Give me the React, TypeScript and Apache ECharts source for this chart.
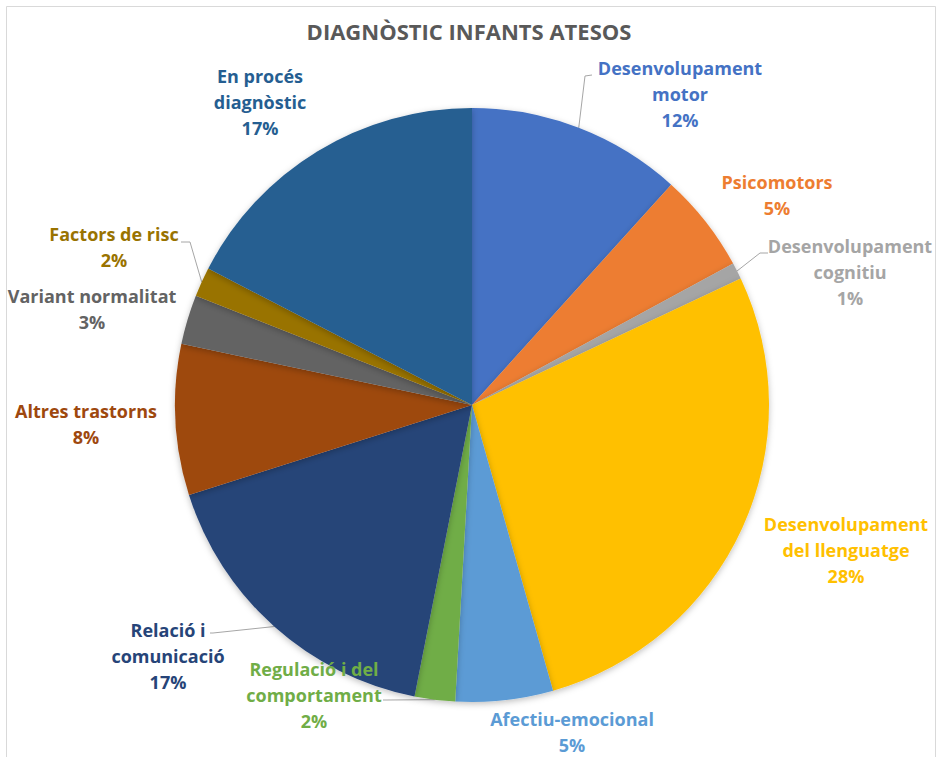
import React, { useEffect, useRef } from "react";
import * as echarts from "echarts";

const title = "DIAGNÒSTIC INFANTS ATESOS";
const categories = [
  "Desenvolupament motor",
  "Psicomotors",
  "Desenvolupament cognitiu",
  "Desenvolupament del llenguatge",
  "Afectiu-emocional",
  "Regulació i del comportament",
  "Relació i comunicació",
  "Altres trastorns",
  "Variant normalitat",
  "Factors de risc",
  "En procés diagnòstic",
];
const wrappedLabels = [
  "Desenvolupament\nmotor",
  "Psicomotors",
  "Desenvolupament\ncognitiu",
  "Desenvolupament\ndel llenguatge",
  "Afectiu-emocional",
  "Regulació i del\ncomportament",
  "Relació i\ncomunicació",
  "Altres trastorns",
  "Variant normalitat",
  "Factors de risc",
  "En procés\ndiagnòstic",
];
const values = [11.7, 5.4, 0.9, 27.6, 5.3, 2.2, 17.0, 8.2, 2.7, 1.6, 17.4];
const colors = [
  "#4472C4", "#ED7D31", "#A5A5A5", "#FFC000", "#5B9BD5", "#70AD47",
  "#264478", "#9E480E", "#636363", "#997300", "#255E91",
];

// label centre positions (layout only)
const labelPos: [number, number][] = [
  [680, 94],
  [777, 195],
  [850, 272],
  [846, 550],
  [572, 732],
  [314, 695],
  [168, 656],
  [86, 424],
  [92, 309],
  [114, 247],
  [260, 102],
];
// leader-line elbow and end points (layout only); null = no leader line
const leaderPts: ([number, number][] | null)[] = [
  [[585, 76], [592, 75]],
  null,
  [[760, 253], [768, 253]],
  null,
  null,
  [[387, 700], [383, 700]],
  [[213, 633], [210, 633]],
  null,
  null,
  [[190, 242], [181, 242]],
  null,
];

export default function App() {
  const ref = useRef<HTMLDivElement>(null);
  useEffect(() => {
    const chart = echarts.init(ref.current!, null, { renderer: "svg" });
    const font = "'Open Sans', Lato, sans-serif";
    chart.setOption({
      animation: false,
      title: {
        text: title,
        left: "center",
        top: 15,
        textStyle: { fontFamily: font, fontSize: 22, fontWeight: "bold", color: "#595959" },
      },
      graphic: [
        {
          type: "rect",
          shape: { x: 6.5, y: 6.5, width: 929, height: 760 },
          style: { fill: "none", stroke: "#d9d9d9", lineWidth: 1 },
          silent: true,
        },
      ],
      series: [
        {
          type: "pie",
          center: [472, 405],
          radius: 297,
          startAngle: 90,
          clockwise: true,
          avoidLabelOverlap: false,
          itemStyle: {
            borderWidth: 0,
            shadowBlur: 6,
            shadowColor: "rgba(0,0,0,0.25)",
            shadowOffsetY: 2,
          },
          label: {
            show: true,
            position: "outside",
            fontFamily: font,
            fontSize: 18,
            fontWeight: "bold",
            lineHeight: 26,
            align: "center",
            formatter: (p: any) =>
              wrappedLabels[p.dataIndex] + "\n" + Math.round(p.percent) + "%",
          },
          labelLine: {
            length: 10,
            length2: 10,
            lineStyle: { color: "#a6a6a6", width: 1 },
          },
          labelLayout: (p: any) => {
            const i = p.dataIndex;
            const out: any = {
              x: labelPos[i][0],
              y: labelPos[i][1],
              align: "center",
              verticalAlign: "middle",
            };
            const lp = leaderPts[i];
            if (lp && p.labelLinePoints) {
              out.labelLinePoints = [p.labelLinePoints[0], lp[0], lp[1]];
            }
            return out;
          },
          data: categories.map((name, i) => ({
            name,
            value: values[i],
            itemStyle: { color: colors[i] },
            label: { color: colors[i] },
            labelLine: { show: leaderPts[i] !== null },
          })),
        },
      ],
    });
    return () => chart.dispose();
  }, []);
  return (
    <div
      ref={ref}
      style={{ position: "fixed", left: 0, top: 0, width: 938, height: 757, background: "#fff" }}
    />
  );
}
